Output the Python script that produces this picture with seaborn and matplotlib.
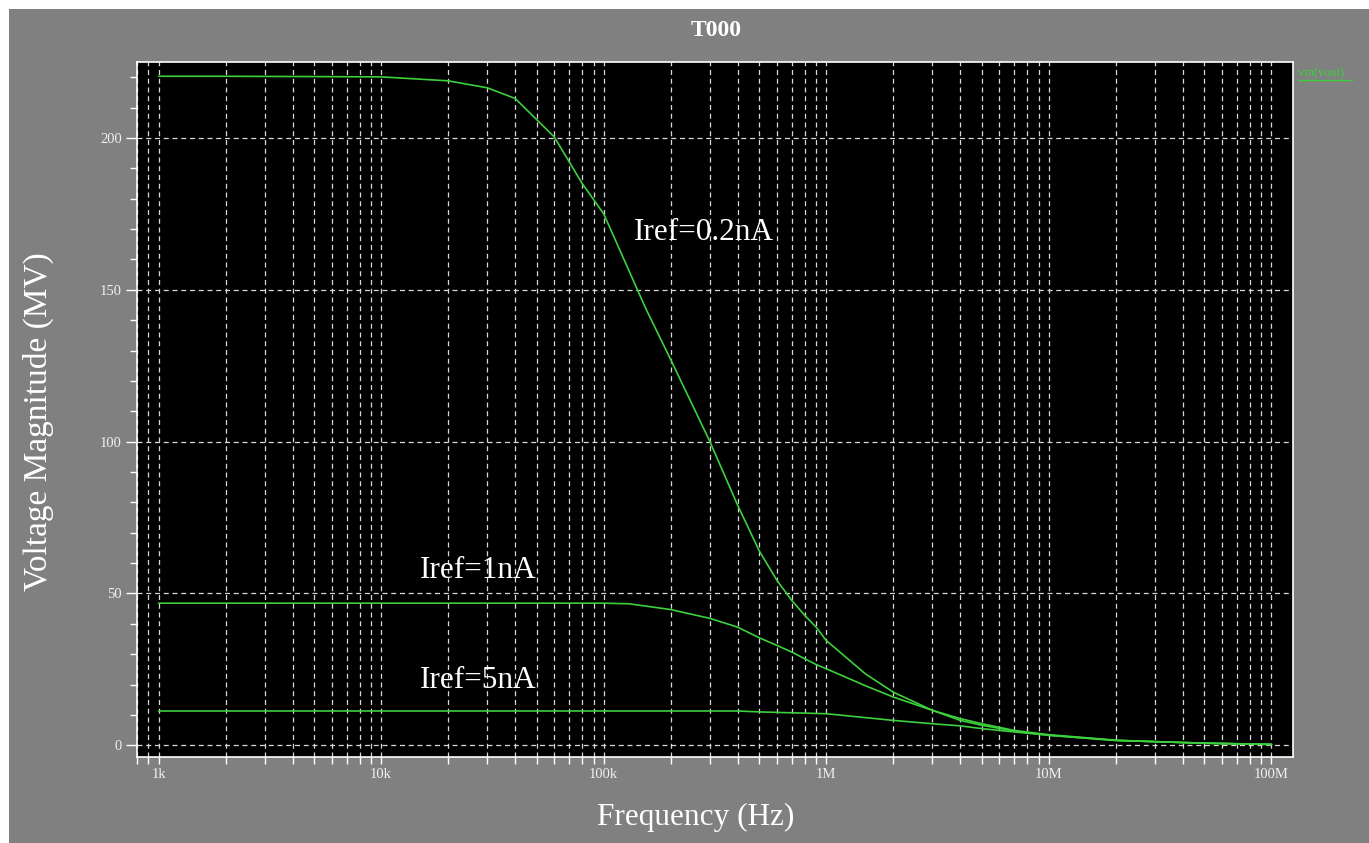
import numpy as np
import pandas as pd
import matplotlib
matplotlib.use("Agg")
import matplotlib.pyplot as plt
import matplotlib.ticker as mticker
from matplotlib.lines import Line2D
from matplotlib.patches import Rectangle
import seaborn as sns

# ---------------- data ----------------
freq_02 = [1e3, 2e3, 5e3, 1e4, 2e4, 3e4, 4e4, 6e4, 8e4, 1e5, 1.55e5, 2e5, 3e5,
           4e5, 5e5, 6e5, 7e5, 8e5, 9e5, 1e6, 1.5e6, 2e6, 3e6, 4e6, 5e6, 7e6,
           1e7, 2e7, 3e7, 5e7, 1e8]
vm_02 = [220.3, 220.3, 220.2, 220.1, 218.8, 216.5, 213.0, 200.3, 185.0, 175.0,
         143.6, 127.0, 100.0, 79.0, 64.0, 54.3, 47.7, 42.8, 38.9, 34.5, 23.5,
         17.5, 11.5, 8.2, 6.6, 4.7, 3.3, 1.6, 1.2, 0.7, 0.3]

freq_1 = [1e3, 1e4, 1e5, 1.3e5, 2e5, 3e5, 4e5, 5e5, 6e5, 7e5, 8e5, 9e5, 1e6,
          1.5e6, 2e6, 3e6, 4e6, 5e6, 7e6, 1e7, 2e7, 3e7, 5e7, 1e8]
vm_1 = [46.8, 46.8, 46.8, 46.6, 44.7, 41.8, 38.9, 35.4, 32.9, 30.7, 28.5, 26.6,
        25.2, 19.6, 15.9, 11.5, 8.8, 7.1, 4.9, 3.5, 1.7, 1.2, 0.7, 0.3]

freq_5 = [1e3, 1e4, 1e5, 4e5, 5e5, 1e6, 2e6, 3e6, 4e6, 5e6, 7e6, 1e7, 2e7,
          3e7, 5e7, 1e8]
vm_5 = [11.3, 11.3, 11.3, 11.3, 11.0, 10.4, 8.2, 7.1, 6.4, 5.5, 4.4, 3.3, 1.6,
        1.2, 0.7, 0.3]

series_names = ["Iref=0.2nA", "Iref=1nA", "Iref=5nA"]

x_major_ticks = [1e3, 1e4, 1e5, 1e6, 1e7, 1e8]
x_major_labels = ["1k", "10k", "100k", "1M", "10M", "100M"]
y_major_ticks = [0, 50, 100, 150, 200]
y_major_labels = ["0", "50", "100", "150", "200"]

title_text = "T000"
xlabel_text = "Frequency (Hz)"
ylabel_text = "Voltage Magnitude (MV)"
legend_text = "vm(vout)"

# annotation anchor points (data coords): label, freq, value
annotations = [("Iref=0.2nA", 1.37e5, 168.8),
               ("Iref=1nA", 1.49e4, 57.6),
               ("Iref=5nA", 1.49e4, 21.4)]

# ---------------- build dataframe ----------------
frames = []
for name, f, v in zip(series_names, [freq_02, freq_1, freq_5], [vm_02, vm_1, vm_5]):
    frames.append(pd.DataFrame({"freq": f, "vm": v, "curve": name}))
df = pd.concat(frames, ignore_index=True)

# ---------------- style ----------------
sns.set_theme(style="ticks")
plt.rcParams["font.family"] = ["Liberation Serif", "DejaVu Serif"]

GRAY = "#808080"
GREEN = "#3dd03d"
W = 1369
H = 843
AX_L, AX_R, AX_T, AX_B = 137, 1293, 62, 757
AW, AH = AX_R - AX_L, AX_B - AX_T

fig = plt.figure(figsize=(W / 100, H / 100), dpi=100)
fig.patch.set_facecolor("white")
bg = Rectangle((9 / W, 0), 1 - 9 / W, 1 - 9 / H, transform=fig.transFigure,
               facecolor=GRAY, edgecolor="none", zorder=-10)
fig.patches.append(bg)

ax = fig.add_axes([AX_L / W, 1 - AX_B / H, AW / W, AH / H])
ax.set_zorder(1)
ax.set_facecolor("black")

sns.lineplot(data=df, x="freq", y="vm", hue="curve",
             palette=[GREEN] * 3, linewidth=1.2, legend=False, ax=ax,
             estimator=None, sort=True, zorder=3)

ax.set_xscale("log")
ax.set_xlim(800, 1.25e8)
ax.set_ylim(-3.85, 225)

ax.xaxis.set_major_locator(mticker.FixedLocator(x_major_ticks))
ax.xaxis.set_major_formatter(mticker.FixedFormatter(x_major_labels))
ax.xaxis.set_minor_locator(mticker.LogLocator(base=10, subs=np.arange(2, 10)))
ax.xaxis.set_minor_formatter(mticker.NullFormatter())

ax.yaxis.set_major_locator(mticker.FixedLocator(y_major_ticks))
ax.yaxis.set_major_formatter(mticker.FixedFormatter(y_major_labels))
ax.yaxis.set_minor_locator(mticker.MultipleLocator(10))

for s in ax.spines.values():
    s.set_color("white")
    s.set_linewidth(1.2)

ax.tick_params(axis="x", which="both", direction="out", length=5, width=1,
               color="white", labelcolor="#f0f0f0", labelsize=10.5, pad=3)
ax.tick_params(axis="y", which="major", direction="out", length=8, width=1,
               color="white", labelcolor="#f0f0f0", labelsize=10.5, pad=3)
ax.tick_params(axis="y", which="minor", direction="out", length=5, width=1,
               color="white")

grid_kw = dict(color="#d8d8d8", linestyle=(0, (4, 3)), linewidth=0.9)
ax.grid(True, axis="x", which="both", **grid_kw)
ax.grid(True, axis="y", which="major", **grid_kw)
ax.grid(False, axis="y", which="minor")
ax.set_axisbelow(True)

ax.set_xlabel(xlabel_text, color="white", fontsize=22.5)
ax.xaxis.label.set_va("center")
ax.xaxis.set_label_coords((696 - AX_L) / AW, -(817 - AX_B) / AH)

ax.set_ylabel(ylabel_text, color="white", fontsize=24)
ax.yaxis.label.set_va("center")
ax.yaxis.set_label_coords((38 - AX_L) / AW, (AX_B - 422) / AH)

ax.text((716 - AX_L) / AW, (AX_B - 30) / AH, title_text, transform=ax.transAxes,
        color="white", fontsize=17, fontweight="bold", ha="center", va="center")

for txt, fx, vy in annotations:
    ax.text(fx, vy, txt, color="white", fontsize=22.5, ha="left", va="center",
            zorder=4)

# legend-like label at top right
fig.text(1298 / W, 1 - 73 / H, legend_text, color=GREEN, fontsize=9,
         ha="left", va="center")
fig.lines.append(Line2D([1298 / W, 1352 / W], [1 - 80 / H, 1 - 80 / H],
                        transform=fig.transFigure, color=GREEN, linewidth=1))

fig.savefig("out.png", dpi=100, facecolor=fig.get_facecolor())
